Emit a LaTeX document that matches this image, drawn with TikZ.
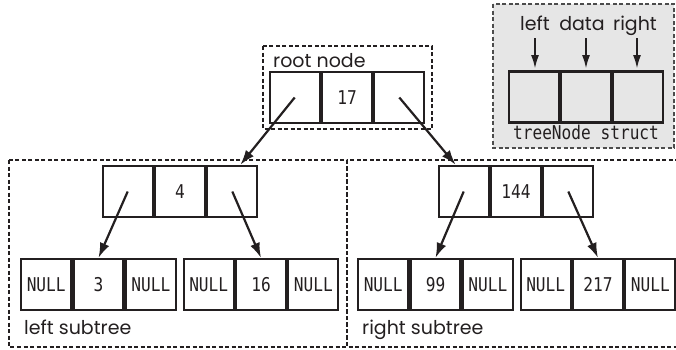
\documentclass[tikz,border=0pt]{standalone}
\usepackage{fontspec}
\setmainfont{Poppins}
\newfontfamily\codefont[FakeStretch=0.85]{DejaVu Sans Mono}
\usetikzlibrary{positioning,arrows.meta}
\definecolor{ink}{HTML}{231F20}
\definecolor{legendgray}{HTML}{E6E6E6}
\begin{document}
\begin{tikzpicture}[x=1pt,y=-1pt,
    cell/.style={draw=ink,line width=2.3pt,minimum width=50pt,minimum height=51pt,inner sep=0pt,
                 text=ink,font=\codefont\fontsize{19}{19}\selectfont},
    region/.style={draw=ink,line width=1.4pt,dash pattern=on 4pt off 2.5pt},
    label/.style={text=ink,inner sep=0pt,anchor=base west,font=\fontsize{19}{19}\selectfont},
    link/.style={draw=ink,line width=2.2pt,-{Latex[length=15pt,width=10pt]}}]
    \useasboundingbox (0,0) rectangle (676,349);

    % dashed regions
    \draw[region] (263,46) rectangle (432,129);
    \draw[region] (9,160) rectangle (347,347);
    \draw[region] (347,160) rectangle (690,347);
    \draw[region,draw=black!70,fill=legendgray] (493,4) rectangle (674,148);

    % legend
    \node[cell,fill=legendgray] (keyD) at (586,97) {};
    \node[cell,fill=legendgray,left=0pt of keyD] (keyL) {};
    \node[cell,fill=legendgray,right=0pt of keyD] (keyR) {};
    \node[label,anchor=base] (keyLt) at (535,30) {left};
    \node[label,anchor=base] (keyDt) at (582,30) {data};
    \node[label,anchor=base] (keyRt) at (635,30) {right};
    \coordinate (keyLa) at (535,38);
    \coordinate (keyDa) at (586,38);
    \coordinate (keyRa) at (637,38);
    \draw[link,-{Latex[length=14pt,width=8pt]}] (keyLa) -- (535,69);
    \draw[link,-{Latex[length=14pt,width=8pt]}] (keyDa) -- (586,69);
    \draw[link,-{Latex[length=14pt,width=8pt]}] (keyRa) -- (637,69);
    \node[cell,draw=none,minimum height=0pt,anchor=base] (keyName) at (586,139) {treeNode struct};

    % root
    \node[cell] (rootD) at (347,97.5) {17};
    \node[cell,left=0pt of rootD] (rootL) {};
    \node[cell,right=0pt of rootD] (rootR) {};
    \node[label] (rootText) at (273,67) {root node};

    % second level
    \node[cell] (aD) at (180,191.5) {4};
    \node[cell,left=0pt of aD] (aL) {};
    \node[cell,right=0pt of aD] (aR) {};
    \node[cell] (bD) at (516,191.5) {144};
    \node[cell,left=0pt of bD] (bL) {};
    \node[cell,right=0pt of bD] (bR) {};

    % leaves
    \node[cell] (cD) at (98.5,284.5) {3};
    \node[cell,left=0pt of cD] (cL) {NULL};
    \node[cell,right=0pt of cD] (cR) {NULL};
    \node[cell] (dD) at (261,284.5) {16};
    \node[cell,left=0pt of dD] (dL) {NULL};
    \node[cell,right=0pt of dD] (dR) {NULL};
    \node[cell] (eD) at (435.5,284.5) {99};
    \node[cell,left=0pt of eD] (eL) {NULL};
    \node[cell,right=0pt of eD] (eR) {NULL};
    \node[cell] (fD) at (598,284.5) {217};
    \node[cell,left=0pt of fD] (fL) {NULL};
    \node[cell,right=0pt of fD] (fR) {NULL};

    \node[label] (leftText) at (24,334) {left subtree};
    \node[label] (rightText) at (362,334) {right subtree};

    % pointers
    \draw[link] (rootL.center) -- ([xshift=8pt]aR.north);
    \draw[link] (rootR.center) -- ([xshift=-8pt]bL.north);
    \draw[link] (aL.center) -- (cD.north);
    \draw[link] (aR.center) -- (dD.north);
    \draw[link] (bL.center) -- (eD.north);
    \draw[link] (bR.center) -- (fD.north);
\end{tikzpicture}
\end{document}
